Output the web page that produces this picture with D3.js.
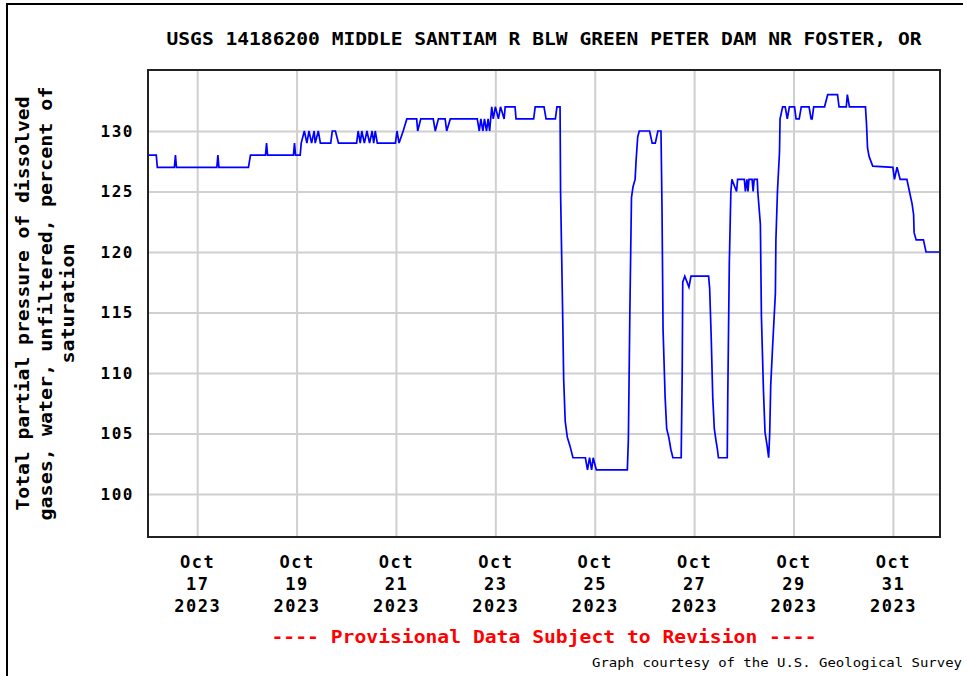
<!DOCTYPE html>
<html lang="en">
<head>
  <meta charset="utf-8" />
  <title>USGS 14186200 Middle Santiam - dissolved gas pressure</title>
  <script src="https://cdnjs.cloudflare.com/ajax/libs/d3/7.8.5/d3.min.js"></script>
  <style>
    body { margin: 0; background: #fff; }
    svg text { font-family: "DejaVu Sans Mono", monospace; font-weight: bold; }
  </style>
</head>
<body>
<svg id="chart" width="967" height="676"></svg>
<script>
  // readings (15-min gage data, only the turning points kept)
  const times = [
    "2023-10-16 00:15", "2023-10-16 04:15", "2023-10-16 04:45", "2023-10-16 13:00", "2023-10-16 13:30", "2023-10-16 14:00",
    "2023-10-17 09:30", "2023-10-17 10:00", "2023-10-17 10:30", "2023-10-18 00:45", "2023-10-18 01:45",
    "2023-10-18 09:00", "2023-10-18 09:30", "2023-10-18 10:00", "2023-10-18 22:30", "2023-10-18 23:00", "2023-10-18 23:30",
    "2023-10-19 01:45", "2023-10-19 02:15", "2023-10-19 03:45", "2023-10-19 05:00", "2023-10-19 06:00", "2023-10-19 07:15",
    "2023-10-19 08:30", "2023-10-19 09:00", "2023-10-19 10:30", "2023-10-19 11:30", "2023-10-19 16:30", "2023-10-19 17:15",
    "2023-10-19 18:45", "2023-10-19 20:15", "2023-10-20 05:00", "2023-10-20 05:45", "2023-10-20 06:45", "2023-10-20 07:30",
    "2023-10-20 08:45", "2023-10-20 10:00", "2023-10-20 11:15", "2023-10-20 12:30", "2023-10-20 13:15", "2023-10-20 14:00",
    "2023-10-20 15:00", "2023-10-20 23:45", "2023-10-21 00:30", "2023-10-21 01:30", "2023-10-21 03:30", "2023-10-21 05:15",
    "2023-10-21 10:00", "2023-10-21 10:30", "2023-10-21 12:00", "2023-10-21 18:00", "2023-10-21 19:00", "2023-10-21 20:30",
    "2023-10-21 23:45", "2023-10-22 00:30", "2023-10-22 02:15", "2023-10-22 15:15", "2023-10-22 16:15", "2023-10-22 17:00",
    "2023-10-22 18:00", "2023-10-22 18:45", "2023-10-22 19:45", "2023-10-22 20:30", "2023-10-22 21:15", "2023-10-22 22:15",
    "2023-10-22 23:00", "2023-10-23 00:00", "2023-10-23 01:30", "2023-10-23 02:30", "2023-10-23 04:15", "2023-10-23 04:45",
    "2023-10-23 09:30", "2023-10-23 10:00", "2023-10-23 18:30", "2023-10-23 19:15", "2023-10-23 23:30", "2023-10-24 00:30",
    "2023-10-24 05:00", "2023-10-24 05:45", "2023-10-24 07:15", "2023-10-24 07:30", "2023-10-24 08:30", "2023-10-24 09:00",
    "2023-10-24 09:45", "2023-10-24 10:45", "2023-10-24 12:00", "2023-10-24 13:30", "2023-10-24 19:30", "2023-10-24 20:30",
    "2023-10-24 21:30", "2023-10-24 22:30", "2023-10-24 23:15", "2023-10-25 00:45", "2023-10-25 15:45", "2023-10-25 16:15",
    "2023-10-25 17:00", "2023-10-25 17:45", "2023-10-25 18:30", "2023-10-25 19:30", "2023-10-25 20:00", "2023-10-25 20:45",
    "2023-10-25 21:30", "2023-10-26 02:30", "2023-10-26 03:45", "2023-10-26 05:15", "2023-10-26 06:30", "2023-10-26 08:00",
    "2023-10-26 08:30", "2023-10-26 09:00", "2023-10-26 10:00", "2023-10-26 10:45", "2023-10-26 11:45", "2023-10-26 12:45",
    "2023-10-26 13:45", "2023-10-26 17:45", "2023-10-26 18:15", "2023-10-26 18:30", "2023-10-26 19:30", "2023-10-26 21:30",
    "2023-10-26 22:30", "2023-10-27 07:00", "2023-10-27 07:30", "2023-10-27 08:15", "2023-10-27 09:00", "2023-10-27 09:45",
    "2023-10-27 10:30", "2023-10-27 11:15", "2023-10-27 11:45", "2023-10-27 16:00", "2023-10-27 16:15", "2023-10-27 17:00",
    "2023-10-27 17:45", "2023-10-27 18:15", "2023-10-27 20:30", "2023-10-27 21:00", "2023-10-28 00:15", "2023-10-28 00:45",
    "2023-10-28 01:30", "2023-10-28 02:00", "2023-10-28 02:30", "2023-10-28 04:00", "2023-10-28 04:30", "2023-10-28 05:00",
    "2023-10-28 06:30", "2023-10-28 06:45", "2023-10-28 08:00", "2023-10-28 08:30", "2023-10-28 09:30", "2023-10-28 10:15",
    "2023-10-28 11:15", "2023-10-28 12:00", "2023-10-28 12:30", "2023-10-28 13:00", "2023-10-28 14:00", "2023-10-28 15:15",
    "2023-10-28 15:30", "2023-10-28 16:15", "2023-10-28 17:15", "2023-10-28 17:30", "2023-10-28 18:45", "2023-10-28 20:00",
    "2023-10-28 21:00", "2023-10-28 22:00", "2023-10-29 00:30", "2023-10-29 01:15", "2023-10-29 02:45", "2023-10-29 03:45",
    "2023-10-29 07:30", "2023-10-29 08:30", "2023-10-29 09:00", "2023-10-29 09:45", "2023-10-29 15:00", "2023-10-29 16:30",
    "2023-10-29 21:15", "2023-10-29 22:00", "2023-10-30 01:30", "2023-10-30 02:00", "2023-10-30 03:00", "2023-10-30 10:45",
    "2023-10-30 11:15", "2023-10-30 11:45", "2023-10-30 12:30", "2023-10-30 14:15", "2023-10-31 00:00", "2023-10-31 00:45",
    "2023-10-31 02:00", "2023-10-31 03:30", "2023-10-31 06:45", "2023-10-31 08:00", "2023-10-31 09:15", "2023-10-31 10:00",
    "2023-10-31 10:15", "2023-10-31 11:15", "2023-10-31 14:45", "2023-10-31 16:00", "2023-10-31 22:45"
  ];
  const values = [
    128, 128, 127, 127, 128, 127,
    127, 128, 127, 127, 128,
    128, 129, 128, 128, 129, 128,
    128, 129, 130, 129, 130, 129,
    130, 129, 130, 129, 129, 130,
    130, 129, 129, 130, 129, 130,
    129, 130, 129, 130, 129, 130,
    129, 129, 130, 129, 130, 131,
    131, 130, 131, 131, 130, 131,
    131, 130, 131, 131, 130, 131,
    130, 131, 130, 131, 130, 132,
    131, 132, 131, 132, 131, 132,
    132, 131, 131, 132, 132, 131,
    131, 132, 132, 125, 115, 109.5,
    106, 104.7, 104, 103, 103, 102,
    103, 102, 103, 102, 102, 104.5,
    115.5, 124.5, 125.4, 126, 127.6, 129.5,
    130, 130, 129, 129, 130, 130,
    123.5, 113.6, 108, 105.4, 104.7, 103.7,
    103, 103, 110, 117.5, 118, 117.1,
    118, 118, 117, 113, 108, 105.4,
    104.5, 103.7, 103, 103, 108, 119.1,
    125, 126, 125, 126, 126, 125,
    126, 125, 126, 126, 125, 126,
    126, 125, 122.3, 114.7, 108.5, 105.1,
    104, 103, 105, 109, 112.5, 116.6,
    121, 125, 128.3, 131, 132, 132,
    131, 132, 132, 131, 131, 132,
    132, 131, 131, 132, 132, 133,
    133, 132, 132, 133, 132, 132,
    130.6, 128.6, 127.9, 127.1, 127, 126,
    127, 126, 126, 125, 124, 123.1,
    121.6, 121, 121, 120, 120
  ];

  const yTicks = [100, 105, 110, 115, 120, 125, 130];
  const xTicks = ["2023-10-17", "2023-10-19", "2023-10-21", "2023-10-23", "2023-10-25", "2023-10-27", "2023-10-29", "2023-10-31"];
  const xStart = "2023-10-16 00:15";
  const xEnd = "2023-10-31 22:45";

  const title = "USGS 14186200 MIDDLE SANTIAM R BLW GREEN PETER DAM NR FOSTER, OR";
  const yLabelLines = ["Total partial pressure of dissolved", "gases, water, unfiltered, percent of", "saturation"];
  const provisional = "---- Provisional Data Subject to Revision ----";
  const credit = "Graph courtesy of the U.S. Geological Survey";

  const parseTime = d3.timeParse("%Y-%m-%d %H:%M");
  const parseDay = d3.timeParse("%Y-%m-%d");
  const data = times.map((t, i) => ({ t: parseTime(t), v: values[i] }));

  const svg = d3.select("#chart");
  const margin = { top: 70, right: 27, bottom: 139, left: 148 };
  const width = +svg.attr("width") - margin.left - margin.right;
  const height = +svg.attr("height") - margin.top - margin.bottom;

  // outer frame (left + top only, like the original image)
  svg.append("path")
    .attr("d", "M7,676V4H963")
    .attr("fill", "none")
    .attr("stroke", "#000")
    .attr("stroke-width", 2);

  const g = svg.append("g")
    .attr("transform", "translate(" + margin.left + "," + margin.top + ")");

  const x = d3.scaleTime()
    .domain([parseTime(xStart), parseTime(xEnd)])
    .range([0, width]);

  const y = d3.scaleLinear()
    .domain([96.45, 135.04])
    .range([height, 0]);

  // grid
  g.append("g")
    .attr("class", "grid")
    .call(d3.axisLeft(y).tickValues(yTicks).tickSize(-width).tickFormat(""))
    .call(s => s.select(".domain").remove())
    .selectAll("line")
    .attr("stroke", "#d0d0d0")
    .attr("stroke-width", 2);

  g.append("g")
    .attr("class", "grid")
    .attr("transform", "translate(0," + height + ")")
    .call(d3.axisBottom(x).tickValues(xTicks.map(parseDay)).tickSize(-height).tickFormat(""))
    .call(s => s.select(".domain").remove())
    .selectAll("line")
    .attr("stroke", "#d0d0d0")
    .attr("stroke-width", 2);

  // y tick labels
  g.append("g")
    .call(d3.axisLeft(y).tickValues(yTicks).tickSize(0).tickPadding(14))
    .call(s => s.select(".domain").remove())
    .selectAll("text")
    .attr("fill", "#000")
    .style("font-size", "16px")
    .style("letter-spacing", "1.5px");

  // x tick labels, three lines each
  const fmtMon = d3.timeFormat("%b"), fmtDay = d3.timeFormat("%d"), fmtYear = d3.timeFormat("%Y");
  g.append("g")
    .attr("transform", "translate(0," + height + ")")
    .call(d3.axisBottom(x).tickValues(xTicks.map(parseDay)).tickSize(0).tickFormat(""))
    .call(s => s.select(".domain").remove())
    .selectAll(".tick")
    .each(function(d) {
      const t = d3.select(this).append("text")
        .attr("fill", "#000")
        .attr("text-anchor", "middle")
        .style("font-size", "17px")
        .style("letter-spacing", "1.5px");
      [fmtMon(d), fmtDay(d), fmtYear(d)].forEach((s, i) => {
        t.append("tspan").attr("x", 0).attr("y", 31 + i * 22).text(s);
      });
    });

  // data line
  g.append("clipPath").attr("id", "clip")
    .append("rect").attr("width", width).attr("height", height);

  g.append("path")
    .datum(data)
    .attr("clip-path", "url(#clip)")
    .attr("fill", "none")
    .attr("stroke", "#0000ff")
    .attr("stroke-width", 1.7)
    .attr("stroke-linejoin", "miter")
    .attr("d", d3.line().x(d => x(d.t)).y(d => y(d.v)));

  // plot frame
  g.append("rect")
    .attr("width", width)
    .attr("height", height)
    .attr("fill", "none")
    .attr("stroke", "#222")
    .attr("stroke-width", 2);

  // title
  svg.append("text")
    .attr("x", margin.left + width / 2)
    .attr("y", 45)
    .attr("text-anchor", "middle")
    .attr("textLength", 755)
    .attr("lengthAdjust", "spacingAndGlyphs")
    .style("font-size", "17px")
    .text(title);

  // y axis label, three rotated lines
  const yLabelX = [23, 46, 68];
  const yLabelLen = [414, 434, 120];
  yLabelLines.forEach((s, i) => {
    svg.append("text")
      .attr("transform", "translate(" + yLabelX[i] + "," + (margin.top + height / 2) + ") rotate(-90)")
      .attr("text-anchor", "middle")
      .attr("dy", "0.35em")
      .attr("textLength", yLabelLen[i])
      .attr("lengthAdjust", "spacingAndGlyphs")
      .style("font-size", "17px")
      .text(s);
  });

  // footer
  svg.append("text")
    .attr("x", margin.left + width / 2)
    .attr("y", 643)
    .attr("text-anchor", "middle")
    .attr("textLength", 545)
    .attr("lengthAdjust", "spacingAndGlyphs")
    .attr("fill", "#ff0000")
    .style("font-size", "17px")
    .text(provisional);

  svg.append("text")
    .attr("x", 592)
    .attr("y", 667)
    .attr("textLength", 370)
    .attr("lengthAdjust", "spacingAndGlyphs")
    .style("font-weight", "normal")
    .style("font-size", "12px")
    .text(credit);
</script>
</body>
</html>
